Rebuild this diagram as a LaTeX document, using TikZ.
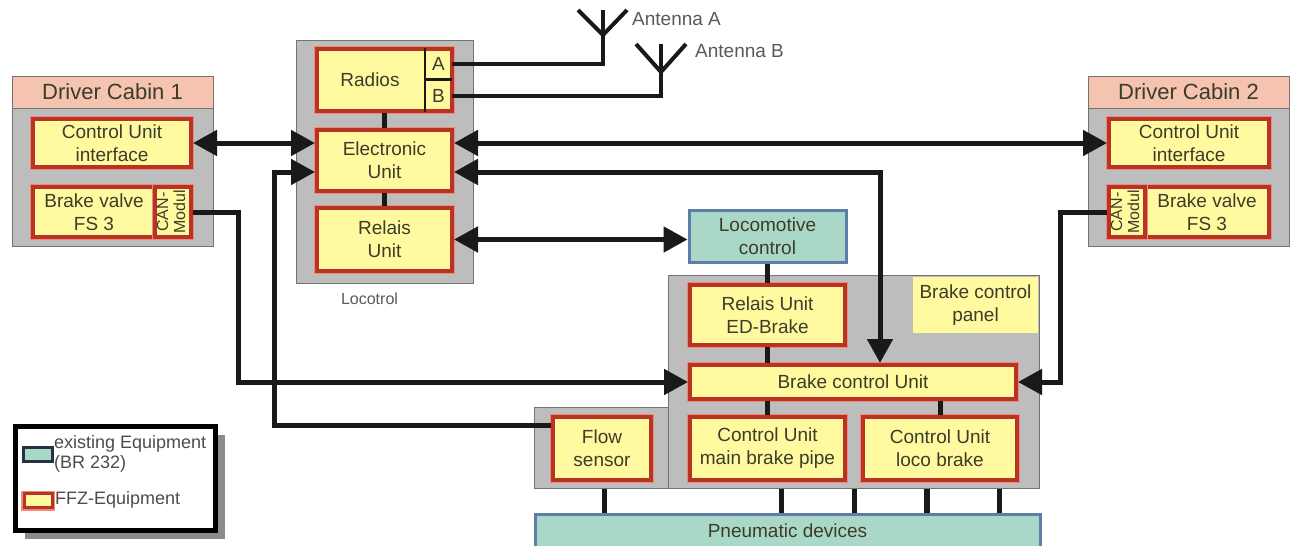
\documentclass[tikz,border=0pt]{standalone}
\usepackage{fontspec}
\setmainfont{Liberation Sans}
\usepackage{xcolor}
\usetikzlibrary{arrows.meta, shadows}
\definecolor{housing}{RGB}{189,189,189}
\definecolor{housingline}{RGB}{115,115,115}
\definecolor{cabinhead}{RGB}{245,196,176}
\definecolor{ffzfill}{RGB}{255,250,160}
\definecolor{ffzline}{RGB}{185,50,35}
\definecolor{ffzhalo}{RGB}{235,140,125}
\definecolor{oldfill}{RGB}{170,216,200}
\definecolor{oldline}{RGB}{95,125,165}
\definecolor{ink}{RGB}{60,60,40}
\definecolor{wire}{RGB}{25,25,25}

\begin{document}
\begin{tikzpicture}[
    x=1pt, y=-1pt,
    every node/.style = {inner sep=0pt, align=center, text=ink,
                         font=\fontsize{19}{23}\selectfont},
    housebox/.style = {rectangle, draw=housingline, line width=1pt, fill=housing},
    headbox/.style  = {housebox, fill=cabinhead, font=\fontsize{22}{26}\selectfont},
    unit/.style     = {rectangle, draw=ffzline, line width=4pt, fill=ffzfill,
                       preaction={draw=ffzhalo, line width=6pt}},
    oldunit/.style  = {rectangle, draw=oldline, line width=3pt, fill=oldfill},
    canmod/.style   = {unit, font=\fontsize{16}{18}\selectfont},
    plaintag/.style = {text=black!65},
    keytext/.style  = {anchor=west, align=left, text=black!70,
                       font=\fontsize{18}{20}\selectfont},
    wirelink/.style = {{Triangle[length=24pt,width=25pt]}-{Triangle[length=24pt,width=25pt]},
                       draw=wire, line width=5pt},
    wireto/.style   = {-{Triangle[length=24pt,width=25pt]}, draw=wire, line width=5pt},
    stub/.style     = {draw=wire, line width=5pt},
    aerial/.style   = {draw=wire, line width=4pt},
    divider/.style  = {draw=wire, line width=2.5pt},
]
\useasboundingbox (0,0) rectangle (1296,546);

% Driver cabins
\node[housebox, minimum width=201pt, minimum height=138pt] (body1) at (112.5,177) {};
\node[headbox, minimum width=201pt, minimum height=32pt] (head1) at (112.5,92) {Driver Cabin 1};
\node[unit, minimum width=158pt, minimum height=48pt] (cui1) at (112,143) {Control Unit\\interface};
\node[unit, minimum width=122pt, minimum height=50pt] (valve1) at (94,212) {Brake valve\\FS 3};
\node[canmod, minimum width=36pt, minimum height=50pt] (can1) at (173,212) {\rotatebox{90}{\begin{tabular}{@{}c@{}}CAN-\\[-1pt]Modul\end{tabular}}};

\node[housebox, minimum width=201pt, minimum height=138pt] (body2) at (1188.5,177) {};
\node[headbox, minimum width=201pt, minimum height=32pt] (head2) at (1188.5,92) {Driver Cabin 2};
\node[unit, minimum width=160pt, minimum height=48pt] (cui2) at (1189,143) {Control Unit\\interface};
\node[unit, minimum width=124pt, minimum height=50pt] (valve2) at (1207,212) {Brake valve\\FS 3};
\node[canmod, minimum width=36pt, minimum height=50pt] (can2) at (1127,212) {\rotatebox{90}{\begin{tabular}{@{}c@{}}CAN-\\[-1pt]Modul\end{tabular}}};

% Locotrol
\node[housebox, minimum width=177pt, minimum height=243pt] (locotrol) at (384.5,161.5) {};
\node[unit, minimum width=135pt, minimum height=62pt] (radios) at (384.5,80) {};
\node (radiosname) at (370,80) {Radios};
\node[minimum width=27pt, minimum height=31pt] (chA) at (438.5,64) {A};
\node[minimum width=27pt, minimum height=31pt] (chB) at (438.5,96) {B};
\node[unit, minimum width=135pt, minimum height=61pt] (ecu) at (384.5,160.5) {Electronic\\Unit};
\node[unit, minimum width=135pt, minimum height=63pt] (relais) at (384.5,239.5) {Relais\\Unit};
\node[plaintag, font=\fontsize{16}{20}\selectfont] (locotag) at (369.5,299) {Locotrol};
\draw[divider] (chA.north west) -- (chB.south west);
\draw[divider] (chA.south west) -- (chA.south east);

% Antennas
\coordinate (antA) at (603,35);
\coordinate (antAl) at (578,10);
\coordinate (antAm) at (603,10);
\coordinate (antAr) at (627,10);
\coordinate (antB) at (661,72);
\coordinate (antBl) at (636,44);
\coordinate (antBm) at (661,44);
\coordinate (antBr) at (686,44);
\node[plaintag, anchor=west] (tagA) at (632,19) {Antenna A};
\node[plaintag, anchor=west] (tagB) at (695,51) {Antenna B};
\draw[aerial] (chA.east) -| (antA) -- (antAm);
\draw[aerial] (antAl) -- (antA) -- (antAr);
\draw[aerial] (chB.east) -| (antB) -- (antBm);
\draw[aerial] (antBl) -- (antB) -- (antBr);

% Brake control panel
\node[housebox, minimum width=134pt, minimum height=81pt] (flowbox) at (601,447.5) {};
\node[housebox, minimum width=371pt, minimum height=213pt] (panel) at (853.5,381.5) {};
\node[fill=ffzfill, minimum width=125pt, minimum height=56pt] (paneltag) at (975.5,305) {Brake control\\panel};
\node[oldunit, minimum width=157pt, minimum height=52pt] (loco) at (767.5,236) {Locomotive\\control};
\node[unit, minimum width=155pt, minimum height=60pt] (edrel) at (767.5,315) {Relais Unit\\ED-Brake};
\node[unit, minimum width=326pt, minimum height=34pt] (bcu) at (853,382) {Brake control Unit};
\node[unit, minimum width=155pt, minimum height=63pt] (cmain) at (767.5,448.5) {Control Unit\\main brake pipe};
\node[unit, minimum width=154pt, minimum height=63pt] (cloco) at (940,448.5) {Control Unit\\loco brake};
\node[unit, minimum width=98pt, minimum height=63pt] (flow) at (602,448.5) {Flow\\sensor};
\node[oldunit, minimum width=505pt, minimum height=33pt] (pneu) at (787.5,531) {Pneumatic devices};

% Short links
\draw[stub] (radios) -- (ecu);
\draw[stub] (ecu) -- (relais);
\draw[stub] (loco) -- (edrel);
\draw[stub] (edrel) -- (edrel.south |- bcu.north);
\draw[stub] (cmain) -- (cmain.north |- bcu.south);
\draw[stub] (cloco) -- (cloco.north |- bcu.south);
\draw[stub] ([xshift=3pt]flowbox.south) -- ([xshift=3pt]flowbox.south |- pneu.north);
\draw[stub] ([xshift=-72.5pt]panel.south) -- ([xshift=-72.5pt]panel.south |- pneu.north);
\draw[stub] ([xshift=0.5pt]panel.south) -- ([xshift=0.5pt]panel.south |- pneu.north);
\draw[stub, line width=6pt] ([xshift=73.5pt]panel.south) -- ([xshift=73.5pt]panel.south |- pneu.north);
\draw[stub] ([xshift=145.5pt]panel.south) -- ([xshift=145.5pt]panel.south |- pneu.north);

% Bus links
\coordinate (bendflow) at (274,425);
\coordinate (bendcan1) at (238,382);
\coordinate (bendcan2) at (1060,382);
\draw[wirelink] (cui1) -- (cui1 -| ecu.west);
\draw[wirelink] (cui2 -| ecu.east) -- (cui2);
\draw[wirelink] ([yshift=-11.5pt]ecu.east) -| ([xshift=27pt]bcu.north);
\draw[wirelink] (relais.east) -- (relais.east -| loco.west);
\draw[wireto] (can1.east) -| (bendcan1) -- (bcu.west);
\draw[wireto] (can2.west) -| (bendcan2) -- (bcu.east);
\draw[wireto] (flow.west |- bendflow) -- (bendflow) |- ([yshift=-11.5pt]ecu.west);

% Key
\node[rectangle, draw=black, line width=5pt, fill=white, minimum width=200pt, minimum height=104pt,
      drop shadow={shadow xshift=9pt, shadow yshift=-9pt, fill=black!45, opacity=1}] (legend) at (115.5,478) {};
\node[oldunit, draw=black!60!oldline, minimum width=29pt, minimum height=14pt] (keyold) at (37.5,454.5) {};
\node[unit, line width=3pt, minimum width=28pt, minimum height=14pt] (keynew) at (38,500.5) {};
\node[keytext] (keyoldtext) at (54,454) {existing Equipment\\(BR 232)};
\node[keytext] (keynewtext) at (55,500) {FFZ-Equipment};
\end{tikzpicture}
\end{document}
